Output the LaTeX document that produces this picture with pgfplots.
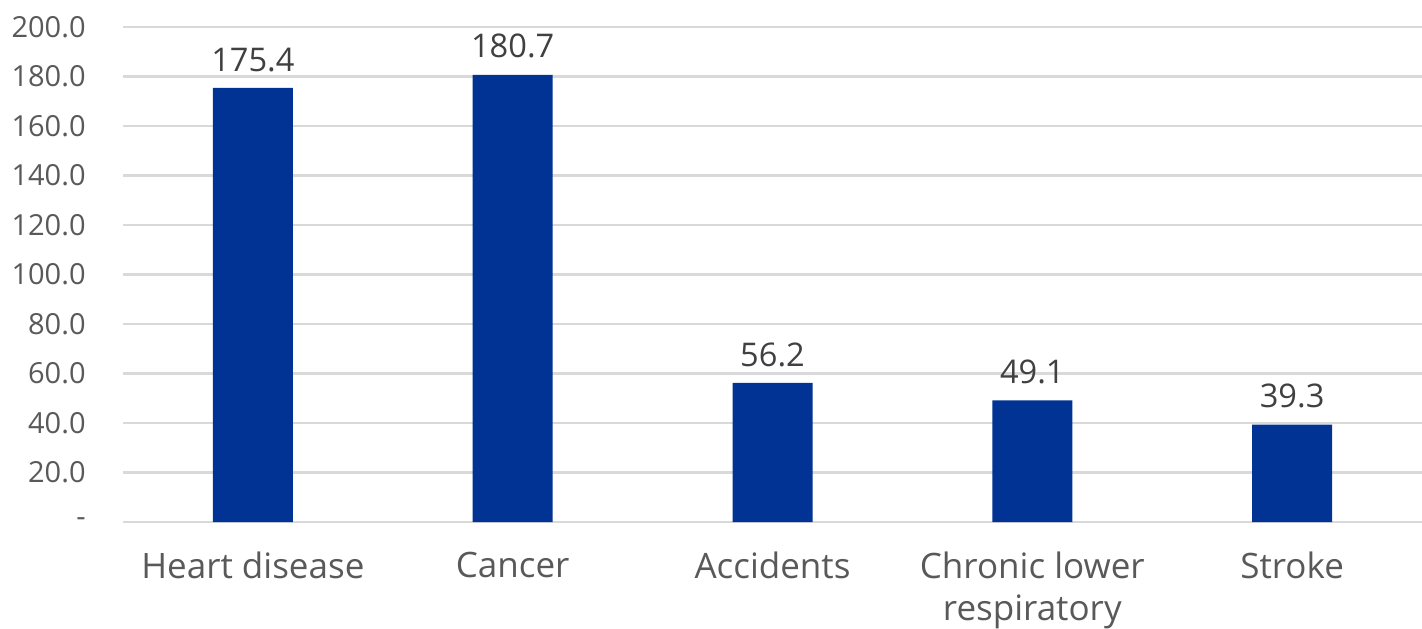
\documentclass[border=0pt]{standalone}
\usepackage{fontspec}
\setmainfont{Open Sans}
\usepackage{pgfplots}
\pgfplotsset{compat=1.18}

\definecolor{barblue}{RGB}{0,51,148}
\definecolor{gridgray}{HTML}{D9D9D9}
\definecolor{ticktext}{HTML}{595959}
\definecolor{valtext}{HTML}{404040}

\begin{document}
\begin{tikzpicture}
  % fix the page to the reference proportions (1px = 0.5pt)
  \useasboundingbox (0,0) rectangle (711pt,314pt);
  \begin{axis}[
    at={(61.5pt,53pt)},
    anchor=south west,
    scale only axis,
    width=649.5pt,
    height=247.5pt,
    ybar,
    bar width=40pt,
    xmin=-0.5, xmax=4.5,
    ymin=0, ymax=200,
    axis line style={draw=none},
    tick style={draw=none},
    ymajorgrids,
    major grid style={gridgray, line width=1.4pt},
    ytick={0,20,...,200},
    yticklabels={-,20.0,40.0,60.0,80.0,100.0,120.0,140.0,160.0,180.0,200.0},
    yticklabel style={font=\fontsize{14.5}{17}\selectfont, text=ticktext,
      inner sep=0pt, anchor=east, xshift=-18.5pt},
    xtick=data,
    xticklabels={Heart disease, Cancer, Accidents, {Chronic lower\\respiratory}, Stroke},
    xticklabel style={font=\fontsize{17.5}{21}\selectfont, text=ticktext,
      align=center, inner sep=0pt, anchor=north, yshift=-10.5pt},
    nodes near coords={\pgfmathprintnumber[fixed,fixed zerofill,precision=1,assume math mode=true]{\pgfplotspointmeta}},
    nodes near coords style={font=\fontsize{16.3}{19}\selectfont, text=valtext,
      anchor=south, inner sep=0pt, yshift=8pt},
    clip=false,
  ]
    \addplot[fill=barblue, draw=none] coordinates {
      (0,175.4)
      (1,180.7)
      (2,56.2)
      (3,49.1)
      (4,39.3)
    };
  \end{axis}
\end{tikzpicture}
\end{document}
